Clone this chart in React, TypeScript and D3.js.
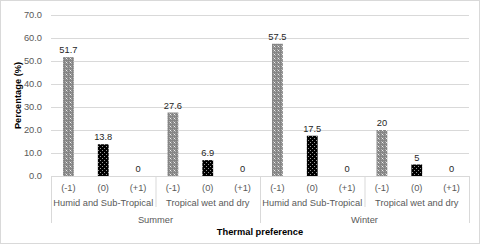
import React from "react";
import * as d3 from "d3";

const seasons = ["Summer", "Winter"];
const climates = ["Humid and Sub-Tropical", "Tropical wet and dry"];
const prefs = ["(-1)", "(0)", "(+1)"];
const values = [51.7, 13.8, 0, 27.6, 6.9, 0, 57.5, 17.5, 0, 20, 5, 0];
const valueLabels = ["51.7", "13.8", "0", "27.6", "6.9", "0", "57.5", "17.5", "0", "20", "5", "0"];
const yTicks = [0, 10, 20, 30, 40, 50, 60, 70];

const W = 480;
const H = 244;
const left = 51;
const right = 469;
const top = 15;
const bottom = 176;
const font = "'Liberation Sans', Arial, sans-serif";

export default function App() {
  const n = seasons.length * climates.length * prefs.length;
  const x = d3.scaleBand<number>().domain(d3.range(n)).range([left, right]).padding(0);
  const y = d3.scaleLinear().domain([0, 70]).range([bottom, top]);
  const bw = x.bandwidth() * 0.31;
  const per = prefs.length;
  const perSeason = climates.length * prefs.length;
  const bx = (i: number) => x(i) as number;
  const edge = (i: number) => (i >= n ? right : bx(i));

  return (
    <svg
      width={W}
      height={H}
      style={{ position: "absolute", left: 0, top: 0, display: "block", background: "#fff" }}
      fontFamily={font}
    >
      <defs>
        <pattern id="pGray" width="4" height="4" patternUnits="userSpaceOnUse">
          <rect width="4" height="4" fill="#858585" />
          <rect x="1" y="1" width="1" height="1" fill="#b5b5b5" />
          <rect x="3" y="3" width="1" height="1" fill="#b5b5b5" />
          <rect x="3" y="1" width="1" height="1" fill="#9c9c9c" />
          <rect x="1" y="3" width="1" height="1" fill="#9c9c9c" />
          <rect x="2" y="2" width="1" height="1" fill="#f0f0f0" />
        </pattern>
        <pattern id="pBlack" width="4" height="4" patternUnits="userSpaceOnUse">
          <rect width="4" height="4" fill="#000" />
          <rect x="0" y="0" width="1" height="1" fill="#9a9a9a" />
          <rect x="2" y="2" width="1" height="1" fill="#9a9a9a" />
        </pattern>
      </defs>
      <rect x={0.5} y={0.5} width={W - 1} height={H - 1} fill="#fff" stroke="#d9d9d9" />
      {yTicks.map((t) => (
        <g key={t}>
          {t > 0 && (
            <line x1={left} x2={right} y1={y(t) + 0.5} y2={y(t) + 0.5} stroke="#d9d9d9" strokeWidth={1} />
          )}
          <text x={42} y={y(t) + 3.3} textAnchor="end" fontSize={9.3} fill="#595959">
            {t.toFixed(1)}
          </text>
        </g>
      ))}
      <line x1={left} x2={right} y1={bottom + 0.5} y2={bottom + 0.5} stroke="#d9d9d9" />
      {values.map((v, i) => {
        const cx = bx(i) + x.bandwidth() / 2;
        const p = i % per;
        return (
          <g key={i}>
            {v > 0 && (
              <rect
                x={cx - bw / 2}
                y={y(v)}
                width={bw}
                height={y(0) - y(v)}
                fill={p === 0 ? "url(#pGray)" : "url(#pBlack)"}
              />
            )}
            <text x={cx} y={y(v) - 4} textAnchor="middle" fontSize={9.3} fill="#262626">
              {valueLabels[i]}
            </text>
            <text x={cx} y={190.5} textAnchor="middle" fontSize={9.3} fill="#595959">
              {prefs[p]}
            </text>
          </g>
        );
      })}
      {d3.range(seasons.length * climates.length).map((g) => {
        const x0 = edge(g * per);
        const x1 = edge((g + 1) * per);
        return (
          <text key={g} x={(x0 + x1) / 2} y={205.5} textAnchor="middle" fontSize={9.3} fill="#595959">
            {climates[g % climates.length]}
          </text>
        );
      })}
      {d3.range(seasons.length * climates.length + 1).map((g) => (
        <line
          key={"s" + g}
          x1={edge(g * per) + 0.5}
          x2={edge(g * per) + 0.5}
          y1={bottom}
          y2={g % climates.length === 0 ? 223 : 207}
          stroke="#d9d9d9"
        />
      ))}
      {seasons.map((s, k) => {
        const x0 = edge(k * perSeason);
        const x1 = edge((k + 1) * perSeason);
        return (
          <text key={s} x={(x0 + x1) / 2} y={222.5} textAnchor="middle" fontSize={9.3} fill="#595959">
            {s}
          </text>
        );
      })}
      <text x={(left + right) / 2} y={234.5} textAnchor="middle" fontSize={9.3} fontWeight="bold" fill="#000">
        Thermal preference
      </text>
      <text
        transform={`translate(21,${(top + bottom) / 2}) rotate(-90)`}
        textAnchor="middle"
        fontSize={9.3}
        fontWeight="bold"
        fill="#000"
      >
        Percentage (%)
      </text>
    </svg>
  );
}
